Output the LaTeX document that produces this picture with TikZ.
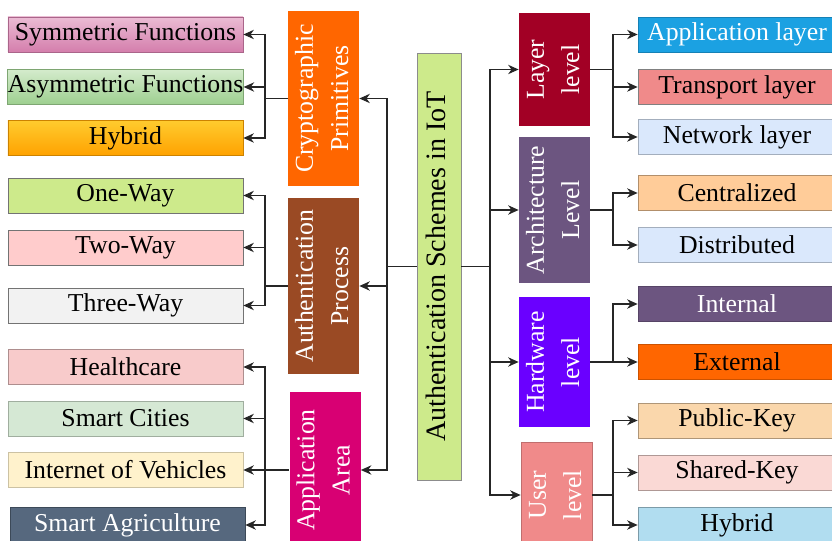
\documentclass[tikz,border=0pt]{standalone}
\usepackage{fontspec}
\setmainfont{Liberation Serif}
\usepackage{tikz}
\usetikzlibrary{arrows.meta}
\usepackage{xcolor}
\definecolor{symtop}{HTML}{EBBCD4}
\definecolor{symbot}{HTML}{D47EAC}
\definecolor{asymtop}{HTML}{D4EBCC}
\definecolor{asymbot}{HTML}{9DCF8F}
\definecolor{hybtop}{HTML}{FFCB2E}
\definecolor{hybbot}{HTML}{FFA200}
\definecolor{lightlime}{HTML}{CDEA8B}
\definecolor{lightrose}{HTML}{FFCCCC}
\definecolor{lightgrey}{HTML}{F2F2F2}
\definecolor{blush}{HTML}{F8CBCB}
\definecolor{mint}{HTML}{D5E8D4}
\definecolor{cream}{HTML}{FFF2CC}
\definecolor{slate}{HTML}{56687E}
\definecolor{brightorange}{HTML}{FF6600}
\definecolor{rust}{HTML}{9A4A24}
\definecolor{magenta}{HTML}{D80073}
\definecolor{crimson}{HTML}{A20025}
\definecolor{mauve}{HTML}{6C5580}
\definecolor{violet}{HTML}{6A00FF}
\definecolor{salmon}{HTML}{F08A8A}
\definecolor{skyblue}{HTML}{1BA1E2}
\definecolor{paleblue}{HTML}{DAE8FC}
\definecolor{peach}{HTML}{FFCC99}
\definecolor{apricot}{HTML}{FAD7AC}
\definecolor{palepink}{HTML}{FAD9D5}
\definecolor{iceblue}{HTML}{B1DDF0}

\newcommand{\vlabel}[1]{\rotatebox{90}{\begin{tabular}{@{}c@{}}#1\end{tabular}}}

\begin{document}
\begin{tikzpicture}[x=0.03cm,y=-0.03cm,
    box/.style={rectangle,inner sep=0pt,line width=0.6pt,font=\fontsize{22}{30}\selectfont},
    leftleaf/.style={box,minimum width=7.05cm,minimum height=1.05cm},
    rightleaf/.style={box,minimum width=5.94cm,minimum height=1.05cm},
    branch/.style={box,minimum width=2.13cm,text=white},
    link/.style={draw=black!85,line width=1pt},
    arrow/.style={link,-{Stealth[length=9pt,width=8pt]}}]
    \useasboundingbox (0,0) rectangle (832,541);

    % Root
    \node[box,draw=black!45,fill=lightlime,minimum width=1.32cm,minimum height=12.81cm,
          font=\fontsize{24}{28}\selectfont] (main) at (439,266.5) {\vlabel{Authentication Schemes in IoT}};

    % Cryptographic primitives
    \node[branch,fill=brightorange] (crypto) at (323.5,98.5) [minimum height=5.25cm] {\vlabel{Cryptographic\\Primitives}};
    \node[leftleaf,draw=symbot!80!black,top color=symtop,bottom color=symbot] (sym) at (125.5,34.5) {Symmetric Functions};
    \node[leftleaf,draw=asymbot!80!black,top color=asymtop,bottom color=asymbot] (asym) at (125.5,87) {Asymmetric Functions};
    \node[leftleaf,draw=hybbot!80!black,top color=hybtop,bottom color=hybbot] (hybA) at (125.5,138) {Hybrid};

    % Authentication process
    \node[branch,fill=rust] (auth) at (323.5,286) [minimum height=5.28cm] {\vlabel{Authentication\\Process}};
    \node[leftleaf,draw=black!55,fill=lightlime] (one) at (125.5,195.5) {One-Way};
    \node[leftleaf,draw=black!55,fill=lightrose] (two) at (125.5,247.5) {Two-Way};
    \node[leftleaf,draw=black!55,fill=lightgrey] (three) at (125.5,305.5) {Three-Way};

    % Application area
    \node[branch,fill=magenta] (appl) at (325,470) [minimum height=4.68cm] {\vlabel{Application\\Area}};
    \node[leftleaf,draw=blush!70!black,fill=blush] (health) at (125.5,367) {Healthcare};
    \node[leftleaf,draw=mint!75!black,fill=mint] (cities) at (125.5,418.5) {Smart Cities};
    \node[leftleaf,draw=cream!80!black,fill=cream] (iov) at (125.5,470) {Internet of Vehicles};
    \node[leftleaf,draw=slate!70!black,fill=slate,text=white] (agri) at (127.5,525) {Smart Agriculture};

    % Layer level
    \node[branch,fill=crimson] (layer) at (554.5,69.5) [minimum height=3.39cm] {\vlabel{Layer\\level}};
    \node[rightleaf,draw=skyblue!80!black,fill=skyblue,text=white] (al) at (737,34.5) {Application layer};
    \node[rightleaf,draw=black!50,fill=salmon] (tl) at (737,87) {Transport layer};
    \node[rightleaf,draw=paleblue!75!black,fill=paleblue] (nl) at (737,137) {Network layer};

    % Architecture level
    \node[branch,fill=mauve] (arch) at (554.5,210) [minimum height=4.38cm] {\vlabel{Architecture\\Level}};
    \node[rightleaf,draw=peach!70!black,fill=peach] (cen) at (737,193) {Centralized};
    \node[rightleaf,draw=paleblue!75!black,fill=paleblue] (dis) at (737,245) {Distributed};

    % Hardware level
    \node[branch,fill=violet] (hw) at (554.5,362) [minimum height=3.9cm] {\vlabel{Hardware\\level}};
    \node[rightleaf,draw=mauve!80!black,fill=mauve,text=white] (int) at (737,304) {Internal};
    \node[rightleaf,draw=brightorange!80!black,fill=brightorange] (ext) at (737,362) {External};

    % User level
    \node[branch,draw=salmon!80!black,fill=salmon] (user) at (556.5,495) [minimum height=3.18cm] {\vlabel{User\\level}};
    \node[rightleaf,draw=apricot!70!black,fill=apricot] (pub) at (737,420.5) {Public-Key};
    \node[rightleaf,draw=palepink!70!black,fill=palepink] (sha) at (737,472.5) {Shared-Key};
    \node[rightleaf,draw=iceblue!70!black,fill=iceblue] (hybB) at (737,525) {Hybrid};

    % Bus lines
    \coordinate (lb) at (265,0);
    \coordinate (mlb) at (387,0);
    \coordinate (mrb) at (490,0);
    \coordinate (rb) at (613,0);

    % Root to branches
    \draw[link] (main.west) -- (mlb |- main.west);
    \foreach \n in {crypto,auth,appl}
        \draw[arrow] (mlb |- main.west) |- (\n.east);
    \draw[link] (main.east) -- (mrb |- main.east);
    \foreach \n in {layer,arch,hw,user}
        \draw[arrow] (mrb |- main.east) |- (\n.west);

    % Left branches to leaves
    \draw[link] (crypto.west) -- (lb |- crypto.west);
    \foreach \n in {sym,asym,hybA}
        \draw[arrow] (lb |- crypto.west) |- (\n.east);
    \draw[link] (auth.west) -- (lb |- auth.west);
    \foreach \n in {one,two,three}
        \draw[arrow] (lb |- auth.west) |- (\n.east);
    \draw[link] (appl.west) -- (lb |- appl.west);
    \foreach \n in {health,cities,iov,agri}
        \draw[arrow] (lb |- appl.west) |- (\n.east);

    % Right branches to leaves
    \draw[link] (layer.east) -- (rb |- layer.east);
    \foreach \n in {al,tl,nl}
        \draw[arrow] (rb |- layer.east) |- (\n.west);
    \draw[link] (arch.east) -- (rb |- arch.east);
    \foreach \n in {cen,dis}
        \draw[arrow] (rb |- arch.east) |- (\n.west);
    \draw[link] (hw.east) -- (rb |- hw.east);
    \foreach \n in {int,ext}
        \draw[arrow] (rb |- hw.east) |- (\n.west);
    \draw[link] (user.east) -- (rb |- user.east);
    \foreach \n in {pub,sha,hybB}
        \draw[arrow] (rb |- user.east) |- (\n.west);
\end{tikzpicture}
\end{document}
